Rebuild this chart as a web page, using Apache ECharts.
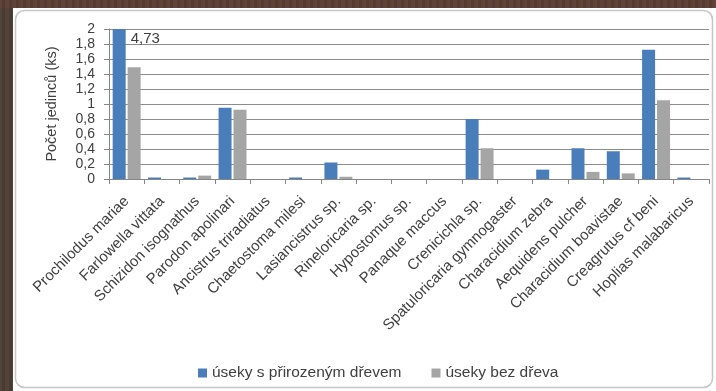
<!DOCTYPE html>
<html>
<head>
<meta charset="utf-8">
<script src="https://cdn.jsdelivr.net/npm/echarts@6/dist/echarts.min.js"></script>
<style>
  html, body { margin: 0; padding: 0; }
  body {
    width: 716px; height: 391px; overflow: hidden;
    background-color: #4d3d35;
    background-image:
      repeating-linear-gradient(90deg, rgba(255,255,255,0.03) 0 2px, rgba(0,0,0,0.05) 2px 5px, rgba(255,255,255,0.02) 5px 7px),
      linear-gradient(180deg, #5a3e34 0, #5a3e34 8px, transparent 8px);
  }
  #chart { width: 716px; height: 391px; }
</style>
</head>
<body>
<div id="chart"></div>
<script>
// Species recorded in the surveyed stream sections
const species = [
  'Prochilodus mariae', 'Farlowella vittata', 'Schizidon isognathus', 'Parodon apolinari',
  'Ancistrus triradiatus', 'Chaetostoma milesi', 'Lasiancistrus sp.', 'Rineloricaria sp.',
  'Hypostomus sp.', 'Panaque maccus', 'Crenicichla sp.', 'Spatuloricaria gymnogaster',
  'Characidium zebra', 'Aequidens pulcher', 'Characidium boavistae', 'Creagrutus cf beni',
  'Hoplias malabaricus'
];

// Mean number of individuals (ks) per section type
const withWood = [4.73, 0.02, 0.02, 0.95, 0, 0.02, 0.22, 0, 0, 0, 0.8, 0, 0.125, 0.41, 0.37, 1.725, 0.02];
const withoutWood = [1.49, 0, 0.045, 0.925, 0, 0, 0.03, 0, 0, 0, 0.41, 0, 0, 0.095, 0.075, 1.05, 0];

const seriesNames = ['úseky s přirozeným dřevem', 'úseky bez dřeva'];
const yTicks = [0, 0.2, 0.4, 0.6, 0.8, 1, 1.2, 1.4, 1.6, 1.8, 2];
const yTitle = 'Počet jedinců (ks)';

const FONT = '"Liberation Sans", Arial, sans-serif';
const TEXT = '#404040';
const czNum = v => String(v).replace('.', ',');

// The axis stops at 2, so values above it get their number written beside the bar
const axisMax = yTicks[yTicks.length - 1];
const blueData = withWood.map(v => v > axisMax ? {
  value: v,
  label: {
    show: true, position: [18, 2], align: 'left', verticalAlign: 'top',
    formatter: p => czNum(p.value), color: TEXT, fontSize: 15, fontFamily: FONT
  }
} : v);

const chart = echarts.init(document.getElementById('chart'), null, { renderer: 'canvas' });
chart.setOption({
  animation: false,
  backgroundColor: 'transparent',
  textStyle: { fontFamily: FONT },
  graphic: [
    { type: 'rect', z: -10, silent: true, shape: { x: 13, y: 8, width: 703, height: 383 }, style: { fill: '#ffffff' } },
    { type: 'rect', z: -9, silent: true, shape: { x: 15.5, y: 10.5, width: 697, height: 377, r: 9 },
      style: { fill: 'none', stroke: '#c6c6c6', lineWidth: 1.5 } }
  ],
  grid: { left: 109, right: 7, top: 29, bottom: 212, containLabel: false },
  legend: {
    left: 193, top: 360, itemWidth: 9, itemHeight: 9, itemGap: 30,
    icon: 'rect',
    textStyle: { color: TEXT, fontSize: 15.5, fontFamily: FONT },
    data: seriesNames
  },
  xAxis: {
    type: 'category',
    data: species,
    axisLine: { lineStyle: { color: '#868686', width: 1 } },
    axisTick: { show: true, length: 5, lineStyle: { color: '#868686' } },
    axisLabel: { interval: 0, rotate: 45, margin: 20, color: TEXT, fontSize: 15, fontFamily: FONT }
  },
  yAxis: {
    type: 'value',
    min: 0, max: axisMax, interval: 0.2,
    name: yTitle, nameLocation: 'middle', nameGap: 50, nameRotate: 90,
    nameTextStyle: { color: TEXT, fontSize: 14.5, fontFamily: FONT },
    axisLine: { show: true, lineStyle: { color: '#868686', width: 1 } },
    axisTick: { show: true, length: 5, lineStyle: { color: '#868686' } },
    splitLine: { lineStyle: { color: '#8c8c8c', width: 1 } },
    axisLabel: {
      margin: 14, color: TEXT, fontSize: 14, fontFamily: FONT,
      formatter: v => czNum(Math.round(v * 10) / 10)
    }
  },
  series: [
    {
      name: seriesNames[0], type: 'bar', data: blueData,
      barWidth: 13, barGap: '15%',
      itemStyle: { color: '#4a7ebb' }
    },
    {
      name: seriesNames[1], type: 'bar', data: withoutWood,
      barWidth: 13,
      itemStyle: { color: '#a5a5a5' }
    }
  ]
});
</script>
</body>
</html>
